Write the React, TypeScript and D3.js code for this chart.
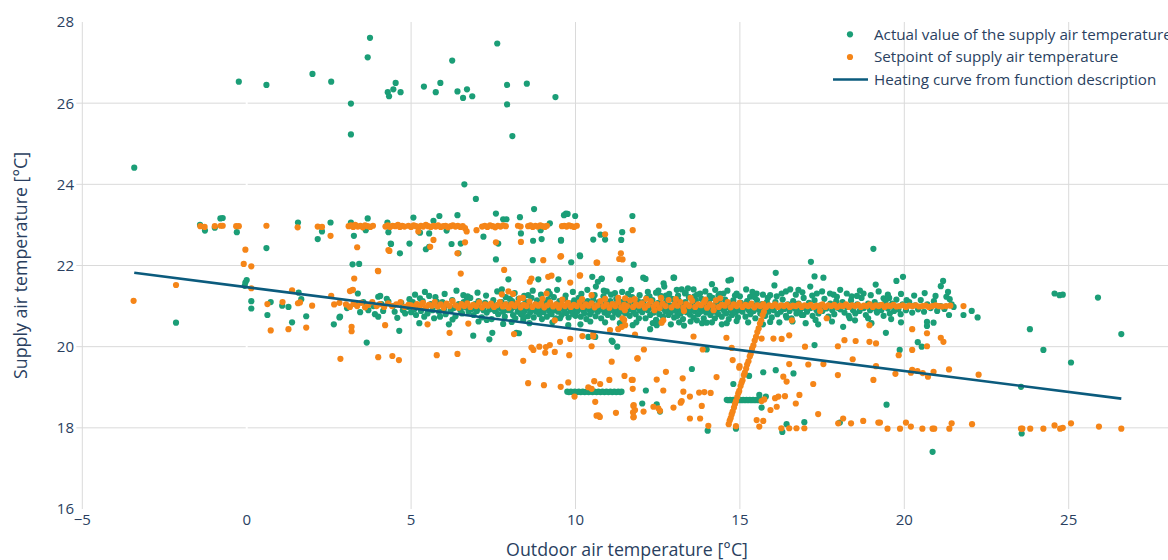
import React from "react";
import * as d3 from "d3";

// ---------- data ----------
type P = [number, number];

// Actual value of the supply air temperature (green)
const actualHigh: P[] = [
  [-3.42,24.41],[-0.24,26.53],[0.6,26.45],[2.0,26.72],[2.57,26.53],[3.17,25.99],[3.17,25.23],[3.68,27.13],[3.75,27.61],
  [4.29,26.27],[4.33,26.17],[4.46,26.34],[4.53,26.5],[4.68,26.27],[5.39,26.41],[5.75,26.27],[5.89,26.5],[6.25,27.05],
  [6.41,26.29],[6.58,26.13],[6.7,26.34],[6.86,26.17],[6.62,24.0],[6.97,23.64],[7.62,27.47],[7.92,26.45],[7.92,25.97],
  [8.08,25.19],[8.52,26.48],[9.39,26.15],
];
const actualUpper: P[] = [
  [-1.42,23.0],[-1.27,22.86],[-0.97,22.93],[-0.8,23.16],[-0.73,23.17],[-0.3,22.82],[0.6,22.43],[1.56,23.06],[2.29,22.84],
  [2.16,22.65],[2.55,23.06],[3.17,23.06],[3.26,22.73],[3.22,22.03],[3.42,22.04],[3.68,23.16],[3.62,22.87],[4.28,23.06],
  [4.31,22.82],[4.39,22.53],[4.66,22.3],[4.38,22.54],[4.95,22.54],[5.07,23.18],[5.27,22.81],[5.55,22.79],[5.68,23.1],
  [5.86,23.22],[5.45,22.4],[5.55,22.46],[6.08,22.86],[6.23,22.53],[6.41,23.24],[6.44,22.3],[6.51,22.54],[7.2,22.71],
  [7.58,23.28],[7.65,22.54],[7.58,22.15],[7.8,23.14],[7.9,23.14],[8.31,23.19],[8.34,22.79],[8.74,23.39],[8.71,22.61],
  [8.97,22.65],[8.94,22.87],[9.22,23.04],[9.56,22.61],[9.65,23.24],[9.71,23.28],[9.76,23.27],[9.99,23.22],[9.56,22.63],
  [10.54,22.64],[10.76,22.76],[10.9,22.64],[11.39,22.63],[11.42,22.82],[11.73,23.22],[10.13,22.25],[9.87,22.08],
  [11.77,22.02],[8.7,22.13],[10.14,22.23],[16.09,21.82],[17.16,22.09],[19.06,22.41],[17.27,21.73],[17.54,21.7],
];
const actualMid: P[] = [
  [-0.06,21.5],[-0.04,21.58],[0.0,21.64],[7.96,21.66],[8.87,21.66],[9.48,21.66],[10.68,21.6],[10.8,21.68],[10.62,21.48],
  [10.95,21.36],[11.33,21.66],[7.76,21.41],[9.17,21.36],[10.51,21.72],[10.79,21.67],[11.35,21.66],[12.06,21.7],[12.13,21.67],
  [13.0,21.7],[12.68,21.56],[12.98,21.7],[14.15,21.54],[14.65,21.63],[14.73,21.65],[16.05,21.51],[19.13,21.53],[19.76,21.62],
  [19.96,21.72],[21.18,21.62],[21.11,21.49],[21.33,21.35],[21.28,21.23],[21.38,21.17],[21.44,21.04],[12.7,21.48],[13.08,21.4],
  [13.23,21.41],[13.33,21.31],[13.59,21.41],[13.79,21.31],[14.25,21.4],[14.35,21.27],[14.5,21.31],[14.9,21.31],[15.19,21.41],
  [15.31,21.23],[15.51,21.31],[15.92,21.27],[16.27,21.31],[16.53,21.41],[16.78,21.4],[17.14,21.48],[17.34,21.31],[17.74,21.31],
  [17.95,21.23],[18.25,21.31],[18.56,21.25],[18.76,21.31],[19.37,21.19],[20.07,21.15],[19.54,21.2],[4.0,21.23],[4.06,21.25],
  [4.26,21.18],[3.38,21.31],[4.31,21.11],[4.95,21.17],[5.27,21.19],[5.55,21.25],[5.78,21.11],[6.59,21.27],[6.69,21.15],[8.56,21.27],
];
const actualAbove: P[] = [
  [5.12,21.28],[5.42,21.35],[5.74,21.22],[6.02,21.3],[6.38,21.38],[6.72,21.24],[7.02,21.33],[7.28,21.26],[7.62,21.36],[7.88,21.22],
  [8.15,21.32],[8.44,21.25],[8.7,21.38],[8.95,21.28],[9.22,21.3],[9.44,21.4],[9.7,21.26],[9.92,21.35],[10.18,21.3],[10.36,21.4],
  [10.58,21.27],[10.86,21.38],[11.08,21.28],[11.42,21.35],[11.7,21.4],[11.95,21.27],[12.25,21.24],[12.52,21.38],[12.75,21.26],
  [13.12,21.26],[13.42,21.44],[13.62,21.24],[13.95,21.36],[14.08,21.25],[14.62,21.38],[15.0,21.24],[15.38,21.35],[15.7,21.28],
  [16.12,21.24],[16.4,21.36],[16.7,21.28],[16.9,21.34],[17.2,21.26],[17.5,21.36],[17.85,21.28],[18.05,21.4],[18.4,21.24],
  [18.65,21.38],[18.98,21.27],[19.22,21.36],[19.5,21.28],[19.9,21.3],[20.3,21.26],[20.62,21.32],[20.95,21.25],
  [5.25,20.58],[6.15,20.55],[7.05,20.62],[7.8,20.56],[8.6,20.58],[9.3,20.6],[10.15,20.55],[11.35,20.58],[12.9,20.55],[13.3,20.52],
  [14.45,20.55],[15.25,20.6],[15.7,20.55],[16.2,20.6],[17.0,20.58],[17.8,20.62],[19.0,20.58],[19.9,20.6],
];
const actualLeft: P[] = [
  [-2.15,20.59],[0.14,21.12],[0.14,20.94],[0.63,20.78],[0.73,21.1],[1.08,21.01],[1.27,20.98],[1.58,21.33],[1.66,21.17],
  [1.38,20.6],[1.81,20.75],[2.65,20.55],[2.82,20.72],[2.84,20.74],[3.65,20.1],
];
const actualBand: P[] = [
  [3.05,20.95],[3.3,21.05],[3.45,20.85],[3.55,21.1],[3.7,20.9],[3.85,21.0],[3.9,20.8],[4.1,21.05],[4.15,20.88],[4.45,21.0],
  [4.5,20.86],[4.7,21.08],[4.75,20.9],[4.9,20.98],[5.0,20.85],
  [5.05,21.1],[5.1,20.92],[5.15,20.78],[5.2,21.02],[5.3,20.88],[5.35,21.12],[5.45,20.95],[5.5,20.82],[5.6,21.05],[5.65,20.9],
  [5.7,20.7],[5.8,21.0],[5.85,20.86],[5.95,21.1],[6.0,20.92],[6.05,20.8],[6.1,21.02],[6.2,20.88],[6.25,21.15],[6.3,20.95],
  [6.35,20.75],[6.45,21.05],[6.5,20.9],[6.55,20.82],[6.6,21.1],[6.65,20.97],[6.75,20.86],[6.8,21.2],[6.85,20.93],[6.9,20.78],
  [6.95,21.05],[7.0,20.88],[7.05,21.12],[7.1,20.96],[7.15,20.72],[7.2,20.9],[7.25,21.08],[7.3,20.84],[7.35,21.0],[7.4,20.92],
  [7.45,20.68],[7.5,21.15],[7.55,20.88],[7.6,21.02],[7.65,20.8],[7.7,20.95],[7.75,21.1],[7.8,20.86],[7.85,20.74],[7.9,21.04],
  [7.95,20.9],[8.0,21.18],
  [8.03,20.9],[8.07,21.12],[8.1,20.78],[8.13,20.98],[8.17,20.7],[8.2,21.05],[8.24,20.86],[8.27,21.18],[8.31,20.93],[8.34,20.8],
  [8.38,21.02],[8.41,20.66],[8.45,20.88],[8.48,21.1],[8.52,20.95],[8.55,20.75],[8.59,21.04],[8.62,20.84],[8.66,21.2],[8.69,20.92],
  [8.73,20.72],[8.76,21.0],[8.8,20.86],[8.83,21.14],[8.87,20.96],[8.9,20.8],[8.93,21.06],[8.96,20.9],[8.98,20.68],[9.0,21.0],
  [9.03,20.85],[9.06,21.08],[9.1,20.95],[9.13,20.74],[9.17,21.16],[9.2,20.88],[9.24,21.02],[9.27,20.8],[9.3,20.97],[9.34,21.22],
  [9.37,20.9],[9.4,20.7],[9.44,21.05],[9.47,20.86],[9.51,21.12],[9.54,20.94],[9.58,20.78],[9.61,21.0],[9.65,20.9],[9.68,21.18],
  [9.72,20.83],[9.75,20.98],[9.79,20.72],[9.82,21.07],[9.86,20.88],[9.89,21.02],[9.93,20.8],[9.96,21.14],[9.98,20.92],[10.0,20.76],
  [10.03,21.04],[10.06,20.87],[10.1,21.2],[10.13,20.95],[10.16,20.74],[10.2,21.08],[10.23,20.9],[10.27,20.82],[10.3,21.0],[10.33,20.68],
  [10.37,21.12],[10.4,20.93],[10.44,20.8],[10.47,21.05],[10.5,20.88],[10.54,21.16],[10.57,20.96],[10.61,20.75],[10.64,21.02],[10.68,20.86],
  [10.71,21.1],[10.75,20.92],[10.78,20.7],[10.82,20.99],[10.85,21.24],[10.88,20.84],[10.92,21.06],[10.95,20.9],[10.98,20.78],[11.0,21.0],
  [10.45,20.62],[10.9,20.6],
  [11.03,20.88],[11.06,21.12],[11.1,20.95],[11.13,20.72],[11.17,21.04],[11.2,20.84],[11.24,21.18],[11.27,20.92],[11.31,20.79],[11.34,21.02],
  [11.38,20.88],[11.41,21.1],[11.44,20.66],[11.48,20.97],[11.51,20.82],[11.55,21.15],[11.58,20.9],[11.62,21.03],[11.65,20.76],[11.69,20.93],
  [11.72,21.22],[11.76,20.86],[11.79,21.05],[11.83,20.8],[11.86,20.96],[11.9,21.12],[11.93,20.7],[11.96,20.9],[12.0,21.06],[11.6,21.3],
  [11.2,21.32],[11.85,20.6],
  [12.03,20.85],[12.06,21.1],[12.1,20.95],[12.13,20.7],[12.17,21.2],[12.2,20.9],[12.24,21.03],[12.27,20.78],[12.31,20.98],[12.34,21.15],
  [12.38,20.84],[12.41,21.0],[12.45,20.66],[12.48,20.92],[12.52,21.08],[12.55,20.8],[12.59,21.25],[12.62,20.95],[12.66,20.74],[12.69,21.05],
  [12.73,20.87],[12.76,21.13],[12.8,20.9],[12.83,20.78],[12.87,21.02],[12.9,20.85],[12.94,21.18],[12.97,20.96],[13.0,20.72],[12.2,21.35],
  [12.45,21.33],[12.85,21.3],[12.6,20.6],[12.35,20.58],
  [13.03,21.06],[13.06,20.88],[13.1,20.76],[13.13,21.15],[13.17,20.94],[13.2,20.82],[13.24,21.02],[13.27,20.68],[13.31,20.9],[13.34,21.1],
  [13.38,20.85],[13.41,20.98],[13.45,21.22],[13.48,20.79],[13.52,20.92],[13.55,21.05],[13.59,20.72],[13.62,20.88],[13.66,21.14],[13.69,20.95],
  [13.73,20.8],[13.76,21.0],[13.8,20.86],[13.83,21.18],[13.87,20.9],[13.9,20.7],[13.94,21.04],[13.97,20.84],[14.0,20.96],[13.15,20.6],
  [13.5,20.62],[13.85,20.58],[13.35,21.33],[13.7,21.28],
  [14.03,20.88],[14.06,21.1],[14.1,20.78],[14.13,20.96],[14.17,21.2],[14.2,20.86],[14.24,20.7],[14.27,21.04],[14.31,20.92],[14.34,20.8],
  [14.38,21.12],[14.41,20.94],[14.45,20.74],[14.48,21.02],[14.52,20.88],[14.55,21.16],[14.59,20.82],[14.62,20.98],[14.66,20.68],[14.69,21.06],
  [14.73,20.9],[14.76,20.78],[14.8,21.14],[14.83,20.95],[14.87,20.84],[14.9,21.02],[14.94,20.72],[14.97,20.9],[14.15,20.6],[14.6,20.58],
  [14.4,21.3],[14.85,21.26],
  [15.03,21.08],[15.08,20.86],[15.12,20.95],[15.17,20.74],[15.22,21.12],[15.27,20.9],[15.32,20.8],[15.37,21.04],[15.42,20.88],[15.47,20.7],
  [15.52,21.15],[15.57,20.92],[15.62,20.82],[15.67,21.05],[15.72,20.9],[15.77,20.76],[15.82,21.1],[15.87,20.86],[15.92,20.96],[15.97,20.72],
  [15.45,21.22],[15.85,21.2],
  [16.03,20.9],[16.08,21.1],[16.14,20.8],[16.19,20.98],[16.24,20.86],[16.3,21.16],[16.35,20.93],[16.4,20.76],[16.46,21.04],[16.51,20.88],
  [16.57,20.7],[16.62,21.12],[16.67,20.94],[16.72,20.82],[16.78,21.06],[16.83,20.9],[16.88,20.78],[16.94,21.2],[16.98,20.95],[16.6,20.62],
  [17.04,20.86],[17.1,21.08],[17.15,20.95],[17.21,20.76],[17.27,21.14],[17.33,20.9],[17.39,20.82],[17.45,21.02],[17.51,20.88],[17.57,21.18],
  [17.63,20.94],[17.69,20.74],[17.75,21.06],[17.81,20.9],[17.87,20.8],[17.93,21.12],[17.98,20.96],[17.3,20.66],
  [18.05,20.92],[18.12,21.1],[18.18,20.84],[18.25,20.98],[18.31,20.76],[18.38,21.14],[18.44,20.9],[18.51,20.82],[18.57,21.04],[18.64,20.88],
  [18.7,21.2],[18.77,20.95],[18.83,20.78],[18.9,21.06],[18.96,20.9],[18.5,20.65],
  [19.04,20.96],[19.1,21.1],[19.17,20.84],[19.24,21.02],[19.3,20.9],[19.37,20.76],[19.43,21.12],[19.5,20.94],[19.56,20.82],[19.63,21.06],
  [19.69,20.88],[19.76,21.16],[19.82,20.92],[19.89,20.8],[19.95,21.04],[19.6,20.68],
  [20.05,20.9],[20.15,21.1],[20.24,20.84],[20.33,21.02],[20.42,20.92],[20.5,21.15],[20.6,20.86],[20.7,21.04],[20.8,20.95],[20.9,21.12],
  [21.0,20.88],[21.1,21.0],[21.22,20.93],[21.5,20.98],
];
const actualBelow: P[] = [
  [4.0,20.74],[4.58,20.71],[4.64,20.39],[4.82,20.82],[5.4,20.74],[5.88,20.74],[6.26,20.67],[6.89,20.27],[7.3,20.66],[7.47,20.34],
  [7.38,20.18],[8.06,20.61],[8.28,20.33],[8.41,20.74],[8.2,20.34],[9.53,20.7],[9.78,20.53],[10.39,20.24],[10.6,20.24],[11.13,20.12],
  [11.27,20.0],[11.1,20.15],[11.74,20.53],[12.27,20.43],[12.47,20.53],[13.69,20.65],[13.99,20.59],[14.9,20.63],[15.92,20.61],
  [16.42,20.72],[16.93,20.78],[17.38,20.55],[18.14,20.49],[18.34,20.7],[18.9,20.7],[19.16,20.88],[17.27,20.04],[13.99,19.93],
  [19.44,20.34],[19.86,19.92],[20.41,20.11],[20.53,20.0],[20.69,20.61],[20.69,20.51],[20.89,20.59],[21.36,20.78],[21.8,20.78],
  [22.05,20.88],[22.23,20.72],[23.82,20.43],[24.23,19.92],[24.57,21.31],[24.72,21.27],[24.82,21.28],[25.07,19.61],[25.89,21.21],
  [26.6,20.31],[23.55,19.01],
];
const actualLow: P[] = [
  [13.54,19.45],[12.14,18.92],[12.03,18.6],[12.47,18.58],[12.57,18.4],[14.02,17.93],[14.88,17.98],[15.28,19.28],[14.8,19.08],
  [15.71,19.37],[15.59,18.81],[15.66,18.5],[15.79,18.77],[16.09,19.42],[16.63,19.34],[16.42,18.09],[16.29,17.9],[16.96,18.14],
  [18.04,18.13],[19.46,18.57],[20.86,17.41],[23.57,17.86],
];
const actualStepA: P[] = [
  [9.75,18.89],[9.8,18.88],[9.86,18.89],[9.92,18.88],[9.98,18.89],[10.04,18.88],[10.1,18.89],[10.16,18.88],[10.22,18.89],[10.28,18.88],
  [10.34,18.89],[10.4,18.88],[10.46,18.89],[10.52,18.88],[10.58,18.89],[10.64,18.88],[10.7,18.89],[10.76,18.88],[10.82,18.89],[10.88,18.88],
  [10.94,18.89],[11.0,18.88],[11.06,18.89],[11.12,18.88],[11.18,18.89],[11.24,18.88],[11.3,18.89],[11.36,18.88],[11.4,18.89],
];
const actualStepB: P[] = [
  [14.6,18.69],[14.65,18.68],[14.7,18.69],[14.75,18.68],[14.8,18.69],[14.85,18.68],[14.9,18.69],[14.95,18.68],[15.0,18.69],[15.05,18.68],
  [15.1,18.69],[15.15,18.68],[15.2,18.69],[15.25,18.68],[15.3,18.69],[15.35,18.68],[15.4,18.69],[15.45,18.68],[15.5,18.69],[15.55,18.68],
  [15.6,18.69],[15.65,18.68],
];

// Setpoint of supply air temperature (orange)
const setTop: P[] = [
  [-1.41,22.97],[-1.28,22.95],[-0.97,22.97],[-0.79,22.98],[-0.73,22.98],[-0.32,22.97],[-0.24,22.97],[0.6,22.98],[1.55,22.94],
  [2.16,22.96],[2.29,22.95],[2.55,22.73],
  [3.1,22.97],[3.17,22.99],[3.24,22.95],[3.3,23.0],[3.38,22.96],[3.46,22.98],[3.53,22.94],[3.6,22.99],[3.68,22.97],[3.76,22.95],[3.84,22.98],
  [4.22,22.96],[4.29,22.99],[4.36,22.95],[4.44,22.98],[4.52,22.97],[4.6,23.0],[4.66,22.95],[4.73,22.98],[4.8,22.96],
  [4.92,22.98],[5.0,22.95],[5.08,22.99],[5.15,22.97],[5.22,22.94],[5.3,22.98],[5.37,22.96],[5.45,23.0],[5.52,22.97],[5.6,22.95],
  [5.68,22.98],[5.75,22.96],[5.82,22.99],[5.9,22.95],[5.98,22.97],[6.05,22.98],[6.12,22.94],[6.2,22.97],[6.27,22.99],[6.35,22.96],
  [6.42,22.98],[6.5,22.95],[6.57,22.97],[6.64,22.92],
  [7.16,22.96],[7.24,22.98],[7.32,22.95],[7.4,22.99],[7.48,22.97],[7.56,22.94],[7.64,22.98],[7.72,22.96],[7.8,22.99],[7.88,22.97],
  [8.25,22.98],[8.33,22.96],
  [8.56,22.97],[8.63,22.99],[8.7,22.95],[8.78,22.98],[8.85,22.96],[8.93,22.99],[9.0,22.97],[9.07,22.95],[9.13,22.98],
  [9.59,22.97],[9.66,22.98],[9.73,22.96],[9.8,22.99],[9.88,22.97],[9.96,22.95],[10.04,22.98],[10.72,22.98],
];
const setUpper: P[] = [
  [-0.04,22.39],[-0.09,22.04],[0.14,21.98],[-2.15,21.52],[0.14,21.44],[1.38,21.39],[2.57,21.25],[3.36,22.45],[3.27,21.68],
  [3.99,21.87],[3.14,21.37],[3.23,21.4],[4.31,22.38],[6.69,22.84],[6.64,22.57],[6.41,22.3],[5.68,22.63],[5.58,22.46],[5.22,22.84],
  [4.34,22.36],[6.99,22.87],[7.58,22.57],[8.34,22.58],[9.02,22.13],[9.54,22.22],[10.9,22.77],[10.64,22.07],[11.38,22.3],
  [11.43,22.15],[11.33,22.16],[11.74,22.87],[6.51,21.8],[4.0,21.86],[7.83,21.89],[8.66,21.68],[8.61,21.6],[9.17,21.72],[9.27,21.75],
  [10.14,21.76],[9.84,21.58],[9.56,22.23],[10.66,22.07],[10.13,21.75],[7.76,21.29],[7.96,21.36],[8.1,21.3],[8.31,21.19],[9.12,21.31],
  [10.49,21.27],[11.51,21.19],
];
const setLeft: P[] = [
  [-3.44,21.13],[0.63,21.05],[1.09,21.1],[1.56,21.07],[1.62,21.09],[1.99,21.01],[2.66,21.04],[2.82,21.08],[0.73,20.4],[1.27,20.43],
  [1.81,20.47],[2.85,19.7],[3.14,20.98],[3.19,20.49],[3.19,20.38],[3.2,21.39],
];
const setBand: P[] = [
  [3.02,21.04],[3.12,20.99],[3.25,21.06],[3.36,21.0],[3.48,21.08],[3.6,20.97],[3.7,21.03],[3.82,21.1],[3.95,21.0],[4.05,21.05],
  [4.18,20.98],[4.3,21.07],[4.42,21.0],[4.55,21.04],[4.68,21.1],[4.8,20.98],[4.92,21.03],
  [5.0,21.02],[5.09,20.98],[5.18,21.05],[5.27,21.0],[5.36,21.08],[5.45,20.97],[5.54,21.03],[5.63,21.01],[5.72,21.1],[5.81,20.99],
  [5.9,21.04],[5.99,20.96],[6.08,21.06],[6.17,21.0],[6.26,21.12],[6.35,21.02],[6.44,20.96],[6.53,21.05],[6.62,21.0],[6.71,21.07],
  [6.8,20.98],[6.89,21.03],[6.98,21.0],[7.07,21.09],[7.16,20.97],[7.25,21.04],[7.34,21.01],[7.43,21.06],[7.52,20.98],[7.61,21.02],
  [7.7,21.1],[7.79,20.99],[7.88,21.04],[7.97,20.96],[8.06,21.05],[8.15,21.0],[8.24,21.08],[8.33,20.97],[8.42,21.03],[8.51,21.0],
  [8.6,21.11],[8.69,20.98],[8.78,21.04],[8.87,21.01],[8.96,21.06],[9.05,20.97],[9.14,21.02],[9.23,21.09],[9.32,20.99],[9.41,21.04],
  [9.5,20.96],[9.59,21.05],[9.68,21.0],[9.77,21.08],[9.86,20.98],[9.95,21.03],[10.04,21.0],[10.13,21.1],[10.22,20.98],[10.31,21.04],
  [10.4,21.01],[10.49,21.07],[10.58,20.97],[10.67,21.02],[10.76,21.12],[10.85,20.99],[10.94,21.04],[11.03,20.96],[11.12,21.05],[11.21,21.0],
  [11.3,21.09],[11.39,20.97],[11.48,21.03],[11.57,21.0],[11.66,21.14],[11.75,20.98],[11.84,21.04],[11.93,21.01],[12.02,21.07],[12.11,20.96],
  [12.2,21.02],[12.29,21.12],[12.38,20.99],[12.47,21.05],[12.56,20.95],[12.65,21.06],[12.74,21.0],[12.83,21.15],[12.92,20.97],[13.01,21.04],
  [13.1,21.01],[13.19,21.1],[13.28,20.96],[13.37,21.05],[13.46,21.0],[13.55,21.13],[13.64,20.98],[13.73,21.04],[13.82,21.02],[13.91,21.09],
  [14.0,20.96],[14.09,21.05],[14.18,21.0],[14.27,21.14],[14.36,20.98],[14.45,21.03],[14.54,21.01],[14.63,21.1],[14.72,20.97],[14.81,21.04],
  [14.9,21.0],[14.99,21.08],[15.08,20.98],[15.17,21.03],[15.26,21.0],[15.35,21.06],[15.44,20.97],[15.53,21.02],[15.62,21.0],[15.71,21.05],
  [15.8,20.98],[15.89,21.02],[15.98,21.0],[16.07,21.04],[16.16,20.98],[16.25,21.02],[16.34,21.0],[16.43,21.03],[16.52,20.98],[16.61,21.01],
  [16.7,21.0],[16.79,21.04],[16.88,20.98],[16.97,21.02],[17.06,21.0],[17.15,21.03],[17.24,20.98],[17.33,21.01],[17.42,21.0],[17.51,21.04],
  [17.6,20.98],[17.69,21.02],[17.78,21.0],[17.87,21.03],[17.96,20.98],[18.05,21.01],[18.14,21.0],[18.23,21.04],[18.32,20.98],[18.41,21.02],
  [18.5,21.0],[18.59,21.03],[18.68,20.98],[18.77,21.01],[18.86,21.0],[18.95,21.04],[19.04,20.98],[19.13,21.02],[19.22,21.0],[19.31,21.03],
  [19.4,20.98],[19.49,21.01],[19.58,21.0],[19.67,21.03],[19.76,20.99],
  [19.85,21.0],[19.95,21.02],[20.05,20.98],[20.15,21.01],[20.25,21.0],[20.35,21.02],[20.45,20.99],[20.55,21.0],[20.65,21.01],[20.75,20.98],
  [20.85,21.0],[20.95,21.02],[21.05,21.0],[21.15,20.99],[21.27,21.0],[21.4,21.01],[21.8,21.0],
  [12.15,21.18],[12.6,21.2],[13.05,21.17],[13.5,21.2],[13.95,21.16],[14.4,21.19],[11.8,21.17],[11.3,21.2],[10.9,21.18],[10.2,21.17],
  [9.6,21.16],[9.0,21.18],[8.4,21.2],[12.4,20.9],[13.3,20.88],[14.2,20.9],[11.5,20.9],
];
const setRamp: P[] = [
  [14.66,18.09],[14.69,18.18],[14.72,18.24],[14.75,18.33],[14.78,18.4],[14.82,18.5],[14.85,18.59],[14.88,18.66],[14.92,18.76],
  [14.95,18.85],[14.98,18.91],[15.02,19.03],[15.05,19.11],[15.08,19.17],[15.12,19.3],[15.15,19.36],[15.19,19.46],[15.22,19.56],
  [15.26,19.64],[15.3,19.76],[15.33,19.82],[15.37,19.95],[15.41,20.03],[15.45,20.15],[15.49,20.24],[15.53,20.36],[15.57,20.45],
  [15.61,20.57],[15.65,20.65],[15.69,20.78],[15.73,20.86],[15.77,20.98],
];
const setBelow: P[] = [
  [4.0,19.74],[4.43,19.77],[4.63,19.67],[5.78,19.79],[6.41,19.82],[7.86,19.85],[4.21,20.53],[5.5,20.55],[6.17,20.34],[6.74,20.57],
  [8.13,20.31],[8.41,19.65],[8.72,19.92],[8.9,20.0],[9.08,19.85],[9.22,20.04],[9.37,19.87],[9.53,20.12],[9.81,19.79],[9.84,20.19],
  [10.21,20.26],[10.54,20.31],[11.05,20.41],[11.1,19.63],[11.3,20.43],[11.51,20.53],[11.43,20.7],[11.89,19.71],[9.37,20.65],[11.48,20.66],
  [11.41,20.49],[10.54,20.25],[8.66,19.98],[9.1,19.99],[10.49,20.01],
  [8.56,19.1],[9.04,19.05],[9.55,19.01],[9.78,19.12],[9.97,18.77],[10.57,19.15],[10.75,19.08],[11.03,19.18],[11.49,19.28],[11.71,19.18],
  [11.74,18.96],[11.76,18.54],[11.75,18.38],[11.76,18.26],[10.6,18.64],[10.64,18.3],[10.7,18.31],[10.74,18.27],[11.23,18.37],[10.49,18.96],
  [10.39,19.0],
  [12.67,20.65],[12.62,20.59],[11.81,20.3],[12.08,19.93],[11.88,19.71],[13.59,20.25],[14.59,20.22],[13.87,19.93],[14.75,19.97],[14.78,19.67],
  [14.98,19.48],[13.26,19.22],[12.75,19.38],[12.47,19.19],[11.74,19.18],[12.67,18.92],[13.28,18.89],[13.48,18.77],[13.76,18.87],[13.92,18.88],
  [14.11,18.86],[14.29,19.25],[13.23,18.66],[13.2,18.62],[12.98,18.5],[12.37,18.52],[12.52,18.48],[12.57,18.42],[11.77,18.56],[11.81,18.44],
  [12.07,18.4],[11.77,18.27],[13.84,18.54],[13.48,18.23],[13.79,18.23],[14.04,18.05],[14.99,19.52],
  [15.66,18.66],[15.74,18.7],[15.51,18.19],[15.71,18.17],[15.59,18.03],[14.88,18.04],[15.93,18.44],[16.07,18.73],[16.17,18.77],[16.37,18.78],
  [16.12,18.52],[16.7,18.6],[16.81,18.81],[16.32,19.26],[16.42,19.14],[16.5,19.57],[16.26,17.99],[16.5,17.99],[16.72,17.99],[16.96,17.99],
  [17.38,18.34],[17.23,19.08],[17.08,19.56],[16.98,20.0],[17.54,19.57],[17.98,19.3],[17.98,20.01],[18.18,20.16],[18.52,20.14],[18.43,19.69],
  [18.94,20.53],[18.94,20.12],[19.14,20.08],[19.14,19.52],[19.06,19.18],[19.73,19.33],[19.83,19.79],[17.64,20.7],[16.5,20.28],[16.27,20.19],
  [16.02,20.2],[15.66,20.2],[16.58,20.65],[17.44,20.88],[17.99,18.11],[18.14,18.23],[18.38,18.11],[18.75,18.17],[19.21,18.13],[19.49,17.98],
  [19.87,17.98],[20.05,18.13],
  [20.24,20.43],[20.69,20.33],[20.24,19.92],[20.69,20.01],[21.11,20.22],[21.19,20.12],[20.24,19.43],[20.4,19.4],[20.56,19.35],[20.2,19.36],
  [20.72,19.26],[20.89,19.38],[21.36,19.44],[22.26,19.31],
  [19.26,18.13],[20.2,18.03],[20.55,17.98],[20.86,17.98],[20.91,17.98],[21.37,17.98],[21.44,18.11],[22.06,18.09],[23.55,17.98],[23.59,17.98],
  [23.83,17.98],[24.23,17.98],[24.57,18.06],[24.74,17.98],[24.82,18.0],[25.07,18.11],[25.92,18.03],[26.6,17.98],
];

// Heating curve from function description
const curveX = [-3.42, 26.6];
const curveY = [21.82, 18.72];

const xTicks = [-5, 0, 5, 10, 15, 20, 25];
const yTicks = [16, 18, 20, 22, 24, 26, 28];

const seriesNames = [
  "Actual value of the supply air temperature",
  "Setpoint of supply air temperature",
  "Heating curve from function description",
];

// ---------- layout ----------
const W = 1168;
const H = 560;
const plotL = 82.3;
const plotR = 1172;
const plotT = 22;
const plotB = 509;

const GREEN = "#1b9e77";
const ORANGE = "#f58518";
const LINE = "#0b5b7d";
const GRID = "#dadada";
const TEXT = "#2a3f5f";
const FONT = "'Open Sans', verdana, arial, sans-serif";

export default function App() {
  const x = d3.scaleLinear().domain([-5, -5 + (plotR - plotL) / 32.88]).range([plotL, plotR]);
  const y = d3.scaleLinear().domain([16, 28]).range([plotB, plotT]);

  const actual = [
    ...actualHigh, ...actualUpper, ...actualMid, ...actualAbove, ...actualLeft, ...actualBand,
    ...actualBelow, ...actualLow, ...actualStepA, ...actualStepB,
  ];
  const setpoint = [...setTop, ...setUpper, ...setLeft, ...setBand, ...setRamp, ...setBelow];

  const line = d3.line<number>()
    .x((_, i) => x(curveX[i]))
    .y((_, i) => y(curveY[i]));

  const r = 3.1;

  return (
    <svg width={W} height={H} style={{ position: "absolute", left: 0, top: 0, background: "#fff" }}
      fontFamily={FONT}>
      <defs>
        <clipPath id="plotclip">
          <rect x={plotL} y={plotT} width={plotR - plotL} height={plotB - plotT} />
        </clipPath>
      </defs>
      {/* grid */}
      {yTicks.filter(t => t > 16 && t < 28).map(t => (
        <line key={"gy" + t} x1={plotL - 6} x2={W} y1={y(t)} y2={y(t)} stroke={GRID} strokeWidth={1} />
      ))}
      {xTicks.filter(t => t !== 0).map(t => (
        <line key={"gx" + t} x1={x(t)} x2={x(t)} y1={plotT} y2={plotB} stroke={GRID} strokeWidth={1} />
      ))}
      <line x1={x(0)} x2={x(0)} y1={plotT} y2={plotB} stroke="#fff" strokeWidth={2} />

      {/* tick labels */}
      {yTicks.map(t => (
        <text key={"ty" + t} x={74} y={y(t)} dy="0.36em" textAnchor="end" fontSize={15} fill={TEXT}>{t}</text>
      ))}
      {xTicks.map(t => (
        <text key={"tx" + t} x={x(t)} y={525} textAnchor="middle" fontSize={15} fill={TEXT}>
          {t < 0 ? "\u2212" + Math.abs(t) : t}
        </text>
      ))}

      {/* axis titles */}
      <text x={627} y={556} textAnchor="middle" fontSize={17.8} fill={TEXT}>Outdoor air temperature [°C]</text>
      <text transform={`translate(27,${(plotT + plotB) / 2}) rotate(-90)`} textAnchor="middle" fontSize={17.8} fill={TEXT}>
        Supply air temperature [°C]
      </text>

      {/* marks */}
      <g clipPath="url(#plotclip)">
        {actual.map((d, i) => (
          <circle key={"a" + i} cx={x(d[0])} cy={y(d[1])} r={r} fill={GREEN} />
        ))}
        {setpoint.map((d, i) => (
          <circle key={"s" + i} cx={x(d[0])} cy={y(d[1])} r={r} fill={ORANGE} />
        ))}
        <path d={line(curveX) || ""} fill="none" stroke={LINE} strokeWidth={2.6} />
      </g>

      {/* legend */}
      <g fontSize={15.2} fill={TEXT}>
        <circle cx={850} cy={34.3} r={r} fill={GREEN} />
        <text x={874} y={34.3} dy="0.36em">{seriesNames[0]}</text>
        <circle cx={850} cy={57} r={r} fill={ORANGE} />
        <text x={874} y={57} dy="0.36em">{seriesNames[1]}</text>
        <line x1={833} x2={868} y1={79.5} y2={79.5} stroke={LINE} strokeWidth={2.6} />
        <text x={874} y={79.5} dy="0.36em">{seriesNames[2]}</text>
      </g>
    </svg>
  );
}
